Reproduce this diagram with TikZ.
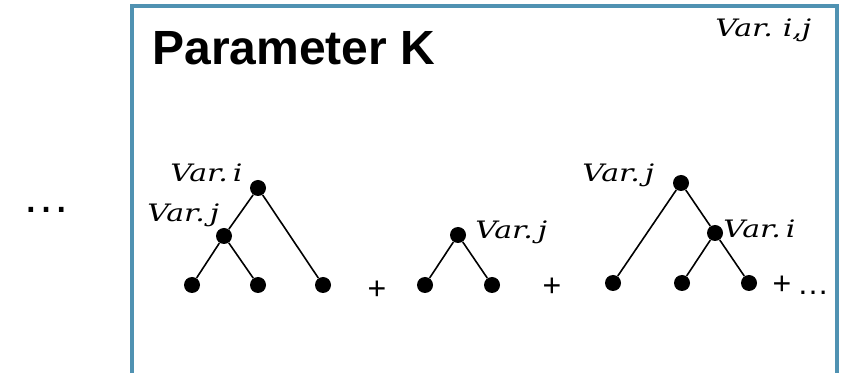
\documentclass[tikz,border=0pt]{standalone}
\usepackage{fontspec}
\usepackage{graphicx}
\newfontfamily\arialfont{Liberation Sans}
\newfontfamily\varfont{DejaVu Serif}
\pgfdeclarelayer{edgelayer}
\pgfdeclarelayer{nodelayer}
\pgfsetlayers{edgelayer,nodelayer,main}
\definecolor{framecol}{RGB}{80,146,178}
\tikzstyle{treeedge}=[draw=black, line width=0.8pt]
\tikzstyle{vertex}=[circle, fill=black, inner sep=0pt, minimum size=8pt]
\tikzstyle{varlabel}=[inner sep=0pt, anchor=base west, font=\varfont\itshape\fontsize{12}{14}\selectfont]
\tikzstyle{opsign}=[inner sep=0pt, font=\arialfont\fontsize{16}{18}\selectfont]
\tikzstyle{frameline}=[draw=framecol, line width=2pt]
\newcommand{\vlab}[1]{\scalebox{1.25}[1]{#1}}

\begin{document}
\begin{tikzpicture}[x=0.5pt, y=-0.5pt]
	\useasboundingbox (0,0) rectangle (846,373);
	\draw [style=frameline] (132,373) -- (132,6) -- (837,6) -- (837,373);
	\begin{pgfonlayer}{nodelayer}
		\node [inner sep=0pt, anchor=base west, font=\arialfont\bfseries\fontsize{24}{28}\selectfont] (t) at (152,65) {Parameter K};
		\node [style=varlabel] (l0) at (715,37) {\vlab{Var.\,\,i,j}};
		\node [inner sep=0pt, font=\arialfont\fontsize{24}{28}\selectfont] (d1) at (46,210) {…};
		% first tree
		\node [style=vertex] (1) at (258,188) {};
		\node [style=vertex] (2) at (224,236) {};
		\node [style=vertex] (3) at (192,285) {};
		\node [style=vertex] (4) at (258,285) {};
		\node [style=vertex] (5) at (323,285) {};
		\node [style=varlabel] (l1) at (170,182) {\vlab{Var.\,i}};
		\node [style=varlabel] (l2) at (147,222) {\vlab{Var.\,j}};
		\node [style=opsign] (p1) at (377,290) {+};
		% second tree
		\node [style=vertex] (6) at (458,235) {};
		\node [style=vertex] (7) at (425,285) {};
		\node [style=vertex] (8) at (492,285) {};
		\node [style=varlabel] (l3) at (475,239) {\vlab{Var.\,j}};
		\node [style=opsign] (p2) at (552,287) {+};
		% third tree
		\node [style=vertex] (9) at (681,183) {};
		\node [style=vertex] (10) at (715,233) {};
		\node [style=vertex] (11) at (613,283) {};
		\node [style=vertex] (12) at (682,283) {};
		\node [style=vertex] (13) at (749,283) {};
		\node [style=varlabel] (l4) at (582,182) {\vlab{Var.\,j}};
		\node [style=varlabel] (l5) at (723,238) {\vlab{Var.\,i}};
		\node [style=opsign] (p3) at (782,285) {+};
		\node [style=opsign] (d2) at (813,293) {…};
	\end{pgfonlayer}
	\begin{pgfonlayer}{edgelayer}
		\draw [style=treeedge] (1) to (2);
		\draw [style=treeedge] (2) to (3);
		\draw [style=treeedge] (2) to (4);
		\draw [style=treeedge] (1) to (5);
		\draw [style=treeedge] (6) to (7);
		\draw [style=treeedge] (6) to (8);
		\draw [style=treeedge] (9) to (11);
		\draw [style=treeedge] (9) to (10);
		\draw [style=treeedge] (10) to (12);
		\draw [style=treeedge] (10) to (13);
	\end{pgfonlayer}
\end{tikzpicture}
\end{document}
